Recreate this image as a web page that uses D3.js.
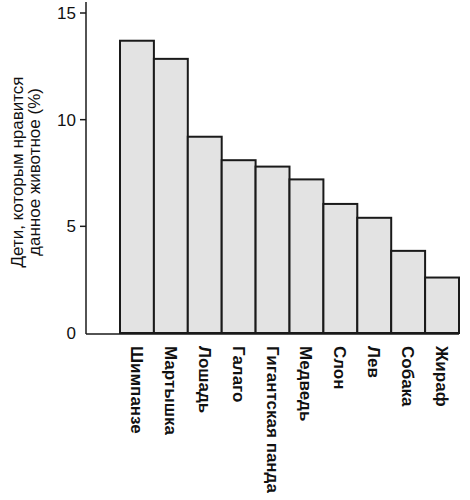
<!DOCTYPE html>
<html>
<head>
<meta charset="utf-8">
<script src="https://cdn.jsdelivr.net/npm/d3@7"></script>
<style>
  body { margin: 0; background: #fff; }
  text { font-family: "Liberation Sans", Arial, sans-serif; fill: #111; }
</style>
</head>
<body>
<div id="chart"></div>
<script>
var animals = ["Шимпанзе", "Мартышка", "Лошадь", "Галаго", "Гигантская панда",
               "Медведь", "Слон", "Лев", "Собака", "Жираф"];
var percents = [13.7, 12.85, 9.2, 8.1, 7.8, 7.2, 6.05, 5.4, 3.85, 2.6];
var yTicks = [0, 5, 10, 15];
var yLabel = ["Дети, которым нравится", "данное животное (%)"];

var svg = d3.select("#chart").append("svg")
    .attr("width", 470)
    .attr("height", 500);

var x = d3.scaleBand()
    .domain(animals)
    .range([120, 459])
    .padding(0);

var y = d3.scaleLinear()
    .domain([0, 15])
    .range([333, 13]);

// bars
svg.selectAll("rect.bar")
    .data(animals)
    .enter()
    .append("rect")
    .attr("class", "bar")
    .attr("x", function (d) { return x(d); })
    .attr("y", function (d, i) { return y(percents[i]); })
    .attr("width", x.bandwidth())
    .attr("height", function (d, i) { return y(0) - y(percents[i]); })
    .style("fill", "#e3e3e3")
    .style("stroke", "#1a1a1a")
    .style("stroke-width", 2);

// y axis line
svg.append("line")
    .attr("x1", 86).attr("x2", 86)
    .attr("y1", 2).attr("y2", y(0) + 1)
    .style("stroke", "#1a1a1a")
    .style("stroke-width", 1.5);

// baseline
svg.append("line")
    .attr("x1", 86).attr("x2", 459)
    .attr("y1", y(0) + 1).attr("y2", y(0) + 1)
    .style("stroke", "#1a1a1a")
    .style("stroke-width", 1.5);

// ticks (none at zero)
svg.selectAll("line.tick")
    .data(yTicks.filter(function (d) { return d > 0; }))
    .enter()
    .append("line")
    .attr("class", "tick")
    .attr("x1", 80).attr("x2", 86)
    .attr("y1", function (d) { return y(d); })
    .attr("y2", function (d) { return y(d); })
    .style("stroke", "#1a1a1a")
    .style("stroke-width", 1.5);

svg.selectAll("text.ytick")
    .data(yTicks)
    .enter()
    .append("text")
    .attr("class", "ytick")
    .attr("x", 76)
    .attr("y", function (d) { return y(d); })
    .attr("dy", "0.35em")
    .attr("text-anchor", "end")
    .style("font-size", "17px")
    .text(function (d) { return d; });

// y label
svg.append("g")
    .attr("transform", "translate(0,172) rotate(-90)")
    .selectAll("text")
    .data(yLabel)
    .enter()
    .append("text")
    .attr("x", 0)
    .attr("y", function (d, i) { return 23 + i * 17; })
    .attr("text-anchor", "middle")
    .style("font-size", "17px")
    .text(function (d) { return d; });

// x labels, rotated
svg.selectAll("text.xlab")
    .data(animals)
    .enter()
    .append("text")
    .attr("class", "xlab")
    .attr("transform", function (d) {
      return "translate(" + (x(d) + x.bandwidth() / 2) + ",346) rotate(90)";
    })
    .attr("dy", "0.35em")
    .style("font-size", "17px")
    .style("font-weight", "bold")
    .text(function (d) { return d; });
</script>
</body>
</html>
